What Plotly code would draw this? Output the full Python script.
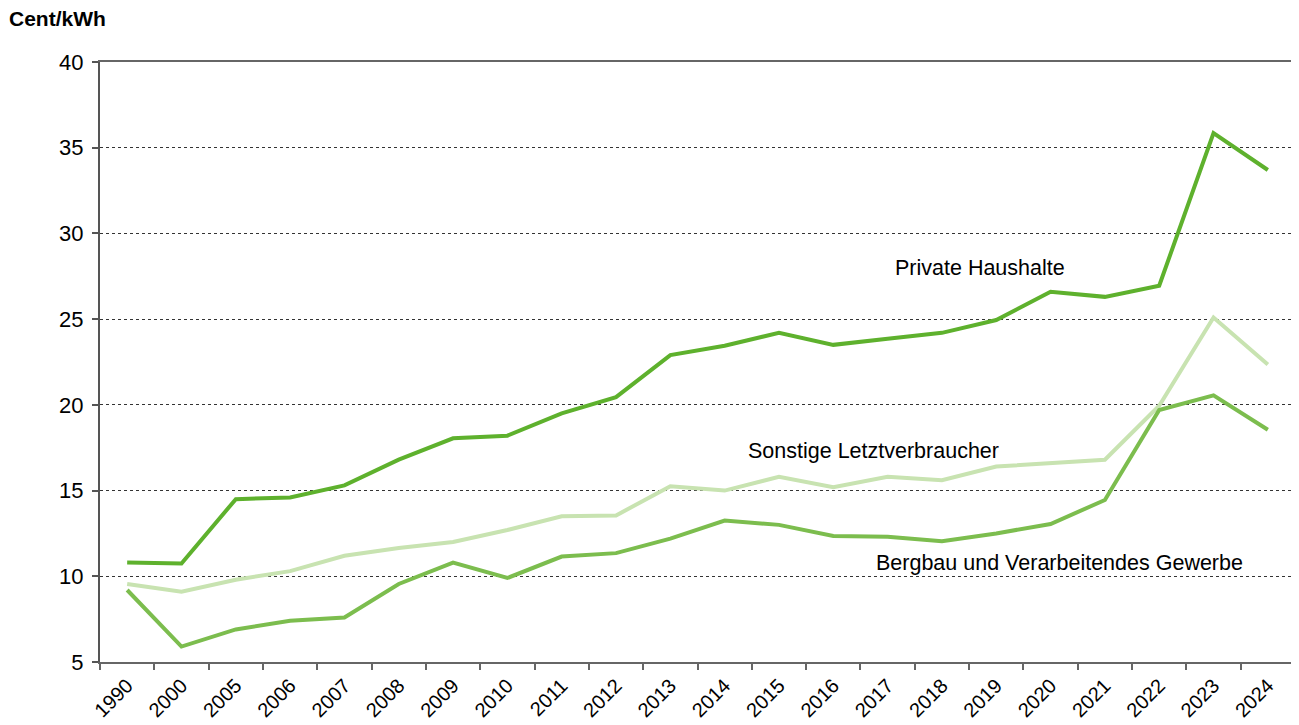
import plotly.graph_objects as go

years = ["1990", "2000", "2005", "2006", "2007", "2008", "2009", "2010", "2011", "2012",
         "2013", "2014", "2015", "2016", "2017", "2018", "2019", "2020", "2021", "2022",
         "2023", "2024"]

private_haushalte = [10.8, 10.75, 14.5, 14.6, 15.3, 16.8, 18.05, 18.2, 19.5, 20.45,
                     22.9, 23.45, 24.2, 23.5, 23.85, 24.2, 24.95, 26.6, 26.3, 26.95,
                     35.85, 33.7]
sonstige = [9.55, 9.1, 9.8, 10.3, 11.2, 11.65, 12.0, 12.7, 13.5, 13.55,
            15.25, 15.0, 15.8, 15.2, 15.8, 15.6, 16.4, 16.6, 16.8, 19.95,
            25.1, 22.35]
bergbau = [9.2, 5.9, 6.9, 7.4, 7.6, 9.55, 10.8, 9.9, 11.15, 11.35,
           12.2, 13.25, 13.0, 12.35, 12.3, 12.05, 12.5, 13.05, 14.45, 19.7,
           20.55, 18.55]

y_ticks = [5, 10, 15, 20, 25, 30, 35, 40]

FONT = "Liberation Sans, Arial, sans-serif"

fig = go.Figure()
fig.add_trace(go.Scatter(x=years, y=sonstige, mode="lines",
                         line=dict(color="#c8e3b1", width=4), name="Sonstige Letztverbraucher"))
fig.add_trace(go.Scatter(x=years, y=bergbau, mode="lines",
                         line=dict(color="#7cbd4e", width=4), name="Bergbau und Verarbeitendes Gewerbe"))
fig.add_trace(go.Scatter(x=years, y=private_haushalte, mode="lines",
                         line=dict(color="#5eb12d", width=4), name="Private Haushalte"))

fig.update_layout(
    width=1291, height=717,
    paper_bgcolor="white", plot_bgcolor="white",
    margin=dict(l=92, r=4, t=54, b=63),
    showlegend=False,
    font=dict(family=FONT, size=20, color="black"),
)

fig.update_xaxes(
    type="category", range=[-0.5, len(years) - 0.5], automargin=False,
    tickson="boundaries", ticks="outside", ticklen=6, tickwidth=2, tickcolor="#666666",
    tickangle=-45, tickfont=dict(size=20), ticklabelstandoff=2,
    showline=True, linecolor="#666666", linewidth=2, mirror=True,
    showgrid=False, zeroline=False,
)
fig.update_yaxes(
    range=[5, 40], tickvals=y_ticks, ticks="outside", ticklen=6, tickwidth=2, tickcolor="#555555",
    tickfont=dict(size=22), ticklabelstandoff=4, automargin=False,
    showline=True, linecolor="#555555", linewidth=2, mirror=False,
    showgrid=True, gridcolor="#333333", gridwidth=1, griddash="dot",
    zeroline=False,
)

fig.add_shape(type="line", xref="paper", yref="paper", x0=1, x1=1, y0=0, y1=1,
              line=dict(color="#8a8a8a", width=2))

fig.add_annotation(text="<b>Cent/kWh</b>", xref="paper", yref="paper",
                   x=-0.078, y=1.0, yshift=44, xanchor="left", yanchor="middle",
                   showarrow=False, font=dict(size=21, color="black"))

labels = [
    ("Private Haushalte", 0.6636, 28.0),
    ("Sonstige Letztverbraucher", 0.5406, 17.3),
    ("Bergbau und Verarbeitendes Gewerbe", 0.6477, 10.78),
]
for text, xp, yv in labels:
    fig.add_annotation(text=text, xref="paper", yref="y", x=xp, y=yv,
                       xanchor="left", yanchor="middle", showarrow=False,
                       font=dict(size=21.5, color="black"))

fig.write_html("out.html")
